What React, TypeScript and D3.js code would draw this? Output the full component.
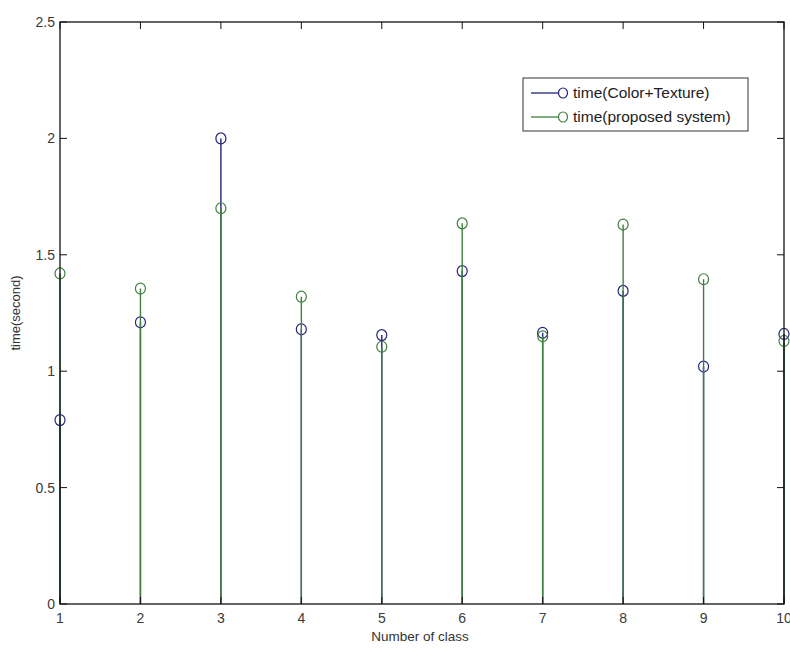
import React from "react";
import * as d3 from "d3";

const classes = [1, 2, 3, 4, 5, 6, 7, 8, 9, 10];
const timeColorTexture = [0.79, 1.21, 2.0, 1.18, 1.155, 1.43, 1.165, 1.345, 1.02, 1.16];
const timeProposed = [1.42, 1.355, 1.70, 1.32, 1.105, 1.635, 1.15, 1.63, 1.395, 1.13];
const yTicks = [0, 0.5, 1, 1.5, 2, 2.5];
const seriesNames = ["time(Color+Texture)", "time(proposed system)"];

const W = 790, H = 648;
const L = 60, R = 784, T = 22, B = 604;
const BLUE = "#23237f";
const GREEN = "#3f7f3f";
const FONT = "'Liberation Sans', Arial, sans-serif";

export default function App() {
  const x = d3.scaleLinear().domain([1, 10]).range([L, R]);
  const y = d3.scaleLinear().domain([0, 2.5]).range([B, T]);
  const tick = 7;
  const series = [
    { vals: timeColorTexture, color: BLUE },
    { vals: timeProposed, color: GREEN },
  ];
  return (
    <svg width={W} height={H} style={{ position: "absolute", left: 0, top: 0, background: "#fff" }}>
      <rect x={0} y={0} width={W} height={H} fill="#fff" />
      {series.map((s, si) => (
        <g key={si}>
          {s.vals.map((v, i) => (
            <line key={"l" + i} x1={x(classes[i])} x2={x(classes[i])} y1={y(0)} y2={y(v)} stroke={s.color} strokeWidth={1.4} />
          ))}
          {s.vals.map((v, i) => (
            <ellipse key={"c" + i} cx={x(classes[i])} cy={y(v)} rx={5} ry={5.5} fill="none" stroke={s.color} strokeWidth={1.2} />
          ))}
        </g>
      ))}
      {/* axes box */}
      <rect x={L} y={T} width={R - L} height={B - T} fill="none" stroke="#111" strokeWidth={1.3} />
      {yTicks.map((t) => (
        <g key={"y" + t}>
          <line x1={L} x2={L + tick} y1={y(t)} y2={y(t)} stroke="#111" />
          <line x1={R} x2={R - tick} y1={y(t)} y2={y(t)} stroke="#111" />
          <text x={L - 5} y={y(t)} dy="0.35em" textAnchor="end" fontFamily={FONT} fontSize={14} fill="#3a3a3a">{String(t)}</text>
        </g>
      ))}
      {classes.map((c) => (
        <g key={"x" + c}>
          <line x1={x(c)} x2={x(c)} y1={B} y2={B - tick} stroke="#111" />
          <line x1={x(c)} x2={x(c)} y1={T} y2={T + tick} stroke="#111" />
          <text x={x(c)} y={B + 19} textAnchor="middle" fontFamily={FONT} fontSize={14} fill="#3a3a3a">{String(c)}</text>
        </g>
      ))}
      <text x={L + (R - L) / 2 - 2} y={641} textAnchor="middle" fontFamily={FONT} fontSize={13.5} fill="#333">Number of class</text>
      <text transform={`translate(20, ${(T + B) / 2}) rotate(-90)`} textAnchor="middle" fontFamily={FONT} fontSize={13} fill="#333">time(second)</text>
      {/* legend */}
      <rect x={523} y={78} width={225} height={53} fill="#fff" stroke="#333" strokeWidth={1} />
      {seriesNames.map((n, i) => {
        const cy = 93 + i * 24;
        const col = i === 0 ? BLUE : GREEN;
        return (
          <g key={n}>
            <line x1={531} x2={563} y1={cy} y2={cy} stroke={col} strokeWidth={1.3} />
            <ellipse cx={563} cy={cy} rx={4.5} ry={5} fill="#fff" stroke={col} strokeWidth={1.2} />
            <text x={573} y={cy} dy="0.35em" fontFamily={FONT} fontSize={15.5} fill="#222">{n}</text>
          </g>
        );
      })}
    </svg>
  );
}
